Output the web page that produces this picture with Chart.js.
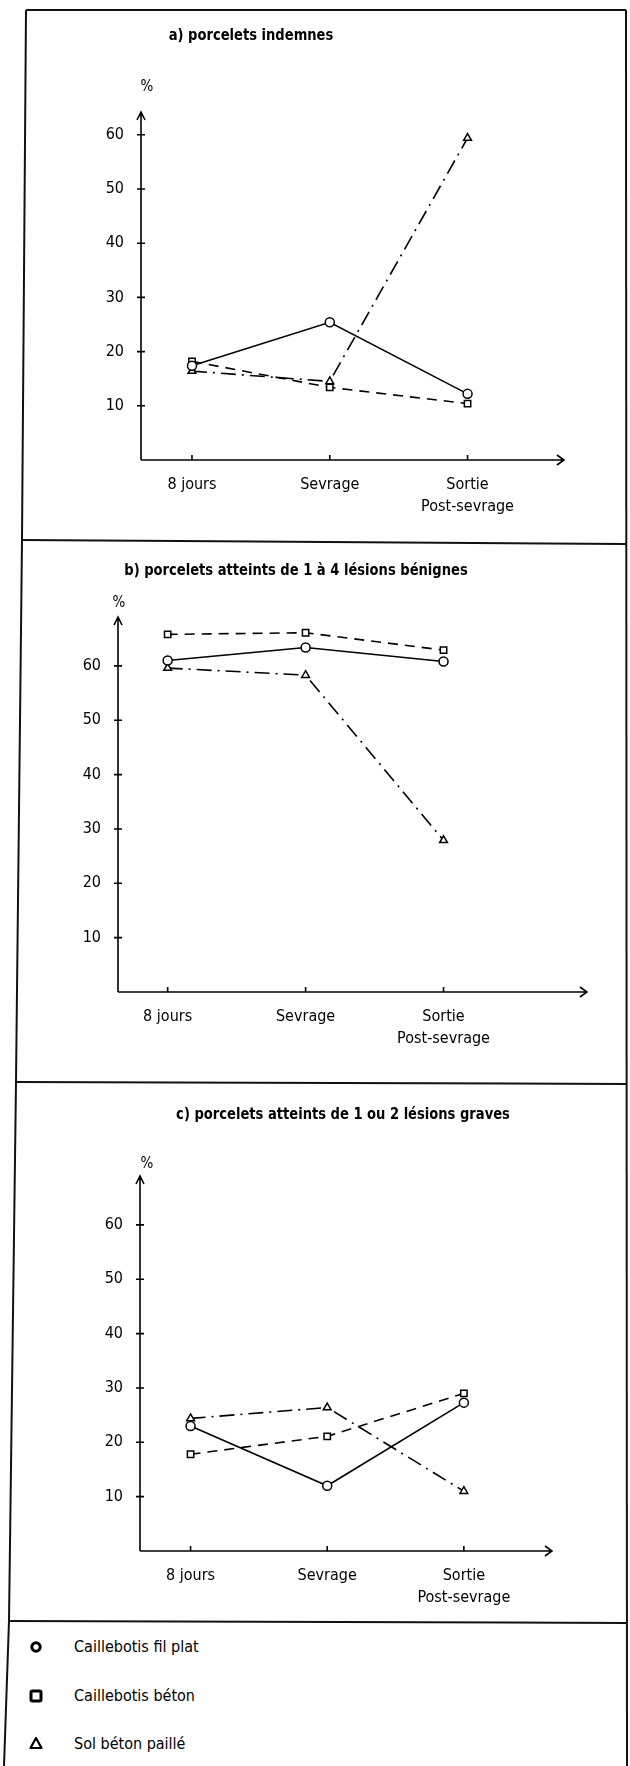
<!DOCTYPE html>
<html>
<head>
<meta charset="utf-8">
<script src="https://cdn.jsdelivr.net/npm/chart.js@4.4.0/dist/chart.umd.min.js"></script>
<style>
  body { margin: 0; background: #fff; }
  #page { position: relative; width: 630px; height: 1766px; overflow: hidden; background: #fff;
          font-family: 'Liberation Sans Narrow', 'DejaVu Sans Condensed', 'Arial Narrow', sans-serif; color: #000; }
  canvas { position: absolute; left: 0; }
  .title { position: absolute; font-weight: bold; font-size: 16px; transform: translate(-50%, -50%) scaleX(0.91); white-space: nowrap; }
  .pct { position: absolute; font-size: 15px; transform: translate(-50%, -50%); }
  .leg { position: absolute; left: 74px; font-size: 16px; transform: translateY(-50%); white-space: nowrap; }
  .mark { position: absolute; left: 28px; }
  svg.frame { position: absolute; left: 0; top: 0; pointer-events: none; }
</style>
</head>
<body>
<div id="page">
  <canvas id="chartA" width="630" height="540" style="top:0px"></canvas>
  <canvas id="chartB" width="630" height="543" style="top:540px"></canvas>
  <canvas id="chartC" width="630" height="539" style="top:1083px"></canvas>

  <div class="title" style="left:251px; top:34px">a) porcelets indemnes</div>
  <div class="title" style="left:296px; top:569px">b) porcelets atteints de 1 à 4 lésions bénignes</div>
  <div class="title" style="left:343px; top:1113px">c) porcelets atteints de 1 ou 2 lésions graves</div>

  <div class="pct" style="left:147px; top:86px">%</div>
  <div class="pct" style="left:119px; top:602px">%</div>
  <div class="pct" style="left:147px; top:1163px">%</div>

  <svg class="mark" style="top:1640px" width="16" height="14"><circle cx="8" cy="7" r="4.2" fill="#fff" stroke="#000" stroke-width="3"/></svg>
  <svg class="mark" style="top:1689px" width="16" height="14"><rect x="3" y="2" width="10" height="10" rx="1.5" fill="#fff" stroke="#000" stroke-width="3"/></svg>
  <svg class="mark" style="top:1736px" width="16" height="14"><path d="M8 2 L13.5 12 L2.5 12 Z" fill="none" stroke="#000" stroke-width="2.2" stroke-linejoin="round"/></svg>
  <div class="leg" style="top:1646px" id="leg0"></div>
  <div class="leg" style="top:1695px" id="leg1"></div>
  <div class="leg" style="top:1743px" id="leg2"></div>

  <svg class="frame" width="630" height="1766">
    <g stroke="#111" stroke-width="2" fill="none">
      <polyline points="26,10 22,540 16,1082 9,1621 4,1766"/>
      <line x1="26" y1="10" x2="626" y2="10"/>
      <line x1="626" y1="10" x2="627" y2="1766"/>
      <line x1="22" y1="540" x2="626" y2="544"/>
      <line x1="16" y1="1082" x2="627" y2="1084"/>
      <line x1="9" y1="1621" x2="627" y2="1623"/>
    </g>
  </svg>
</div>

<script>
// categories and tick values
const categories = ['8 jours', 'Sevrage', ['Sortie', 'Post-sevrage']];
const yTicks = [10, 20, 30, 40, 50, 60];
const seriesNames = ['Caillebotis fil plat', 'Caillebotis béton', 'Sol béton paillé'];

// a) porcelets indemnes
const filPlatA = [17.4, 25.4, 12.2];
const betonA = [18.2, 13.4, 10.4];
const pailleA = [16.4, 14.5, 59.4];

// b) 1 a 4 lesions benignes
const filPlatB = [61.0, 63.4, 60.8];
const betonB = [65.8, 66.1, 62.9];
const pailleB = [59.6, 58.3, 27.9];

// c) 1 ou 2 lesions graves
const filPlatC = [23.0, 12.0, 27.3];
const betonC = [17.8, 21.1, 29.0];
const pailleC = [24.4, 26.4, 11.0];

const lineDashes = [[], [10, 7], [15, 6, 2, 6]];
const markers = ['circle', 'rect', 'triangle'];
const ink = '#000';

Chart.defaults.font.family = "'Liberation Sans Narrow', 'DejaVu Sans Condensed', 'Arial Narrow', sans-serif";
Chart.defaults.color = ink;

// axis lines with arrow heads and the little crossing ticks
const arrowAxes = {
    id: 'arrowAxes',
    beforeDatasetsDraw(chart) {
        const ctx = chart.ctx;
        const a = chart.chartArea;
        const xs = chart.scales.x, ys = chart.scales.y;
        ctx.save();
        ctx.strokeStyle = ink;
        ctx.lineWidth = 1.6;
        ctx.beginPath();
        ctx.moveTo(a.left, a.bottom); ctx.lineTo(a.left, a.top);
        ctx.moveTo(a.left - 4, a.top + 8); ctx.lineTo(a.left, a.top); ctx.lineTo(a.left + 4, a.top + 8);
        ctx.moveTo(a.left, a.bottom); ctx.lineTo(a.right, a.bottom);
        ctx.moveTo(a.right - 7, a.bottom - 5); ctx.lineTo(a.right, a.bottom); ctx.lineTo(a.right - 7, a.bottom + 5);
        yTicks.forEach(v => {
            const y = ys.getPixelForValue(v);
            ctx.moveTo(a.left - 4, y); ctx.lineTo(a.left + 4, y);
        });
        categories.forEach((c, i) => {
            const x = xs.getPixelForValue(i);
            ctx.moveTo(x, a.bottom - 5); ctx.lineTo(x, a.bottom);
        });
        ctx.stroke();
        ctx.restore();
    }
};

function drawPanel(id, series, box) {
    new Chart(document.getElementById(id), {
        type: 'line',
        data: {
            datasets: series.map((vals, k) => ({
                label: seriesNames[k],
                data: vals.map((v, i) => ({ x: i, y: v })),
                borderColor: ink,
                borderWidth: 1.6,
                borderDash: lineDashes[k],
                pointStyle: markers[k],
                pointRadius: 4.5,
                pointBackgroundColor: '#fff',
                pointBorderColor: ink,
                pointBorderWidth: 1.5,
                tension: 0
            }))
        },
        options: {
            responsive: false,
            animation: false,
            layout: { padding: box.padding },
            plugins: { legend: { display: false }, tooltip: { enabled: false } },
            scales: {
                x: {
                    type: 'linear', min: box.xMin, max: box.xMax,
                    grid: { display: false, drawTicks: false }, border: { display: false },
                    afterFit: s => { s.height = 60; },
                    afterBuildTicks: s => { s.ticks = categories.map((c, i) => ({ value: i })); },
                    ticks: { padding: 14, autoSkip: false, maxRotation: 0, font: { size: 16, lineHeight: 1.35 },
                             callback: v => categories[v] }
                },
                y: {
                    min: 0, max: box.yMax,
                    grid: { display: false, drawTicks: false }, border: { display: false },
                    afterFit: s => { s.width = 40; },
                    afterBuildTicks: s => { s.ticks = yTicks.map(v => ({ value: v })); },
                    ticks: { padding: 17, font: { size: 16 } }
                }
            }
        },
        plugins: [arrowAxes]
    });
}

drawPanel('chartA', [filPlatA, betonA, pailleA],
    { padding: { left: 101, right: 66, top: 112, bottom: 20 }, xMin: -0.37, xMax: 2.7, yMax: 64.2 });
drawPanel('chartB', [filPlatB, betonB, pailleB],
    { padding: { left: 78, right: 43, top: 77, bottom: 31 }, xMin: -0.36, xMax: 3.04, yMax: 69 });
drawPanel('chartC', [filPlatC, betonC, pailleC],
    { padding: { left: 100, right: 78, top: 93, bottom: 11 }, xMin: -0.37, xMax: 2.645, yMax: 69 });

seriesNames.forEach((n, k) => { document.getElementById('leg' + k).textContent = n; });
</script>
</body>
</html>
